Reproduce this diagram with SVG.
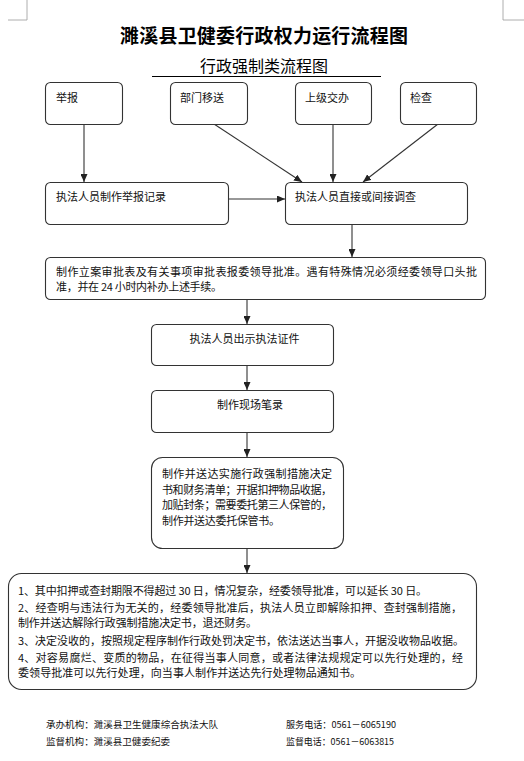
<svg xmlns="http://www.w3.org/2000/svg" width="524" height="761" viewBox="0 0 524 761">
<defs>
<marker id="ah" markerWidth="8" markerHeight="7" refX="8" refY="3.5" orient="auto" markerUnits="userSpaceOnUse"><path d="M0,0 L8,3.5 L0,7 z" fill="#222"/></marker>
<style>
.box{fill:#fff;stroke:#333;stroke-width:1.1}
.t{font-family:"Noto Sans CJK SC","Noto Sans",sans-serif;font-size:11px;fill:#111}
.f{font-family:"Noto Sans CJK SC","Noto Sans",sans-serif;font-size:9.6px;fill:#111}
.c{stroke:#333;stroke-width:1.1;fill:none;marker-end:url(#ah)}
.m{stroke:#999;stroke-width:0.8;fill:none}
</style>
</defs>
<rect width="524" height="761" fill="#fff"/>
<g id="corners">
<path class="m" d="M27,0 V20 H8"/>
<path class="m" d="M503,0 V20 H524"/>
</g>
<g id="title">
<text x="264" y="43" text-anchor="middle" style="font-family:'Noto Sans CJK SC',sans-serif;font-size:19px;font-weight:bold;fill:#000" textLength="288">濉溪县卫健委行政权力运行流程图</text>
<text x="264" y="72" text-anchor="middle" style="font-family:'Noto Sans CJK SC',sans-serif;font-size:16px;fill:#000">行政强制类流程图</text>
<line x1="152" y1="76.5" x2="381" y2="76.5" stroke="#000" stroke-width="1"/>
</g>
<g id="connectors">
<line class="c" x1="84" y1="124" x2="84" y2="182"/>
<line class="c" x1="214" y1="124" x2="302" y2="182"/>
<line class="c" x1="333" y1="124" x2="333" y2="182"/>
<line class="c" x1="438" y1="124" x2="363" y2="182"/>
<line class="c" x1="228" y1="199" x2="285" y2="199"/>
<line class="c" x1="352" y1="224" x2="352" y2="257"/>
<line class="c" x1="247" y1="299" x2="247" y2="324"/>
<line class="c" x1="247" y1="365" x2="247" y2="390"/>
<line class="c" x1="247" y1="432" x2="247" y2="457"/>
<line class="c" x1="247" y1="548" x2="247" y2="573"/>
</g>
<g id="n-jubao"><rect class="box" x="45.5" y="82.5" width="77" height="42" rx="5"/><text class="t" x="56" y="102">举报</text></g>
<g id="n-bumen"><rect class="box" x="170.5" y="82.5" width="77" height="42" rx="5"/><text class="t" x="180" y="102">部门移送</text></g>
<g id="n-shangji"><rect class="box" x="295.5" y="82.5" width="76" height="42" rx="5"/><text class="t" x="305" y="102">上级交办</text></g>
<g id="n-jiancha"><rect class="box" x="400.5" y="82.5" width="76" height="42" rx="5"/><text class="t" x="410" y="102">检查</text></g>
<g id="n-jilu"><rect class="box" x="45.5" y="182.5" width="183" height="42" rx="5"/><text class="t" x="56" y="201">执法人员制作举报记录</text></g>
<g id="n-diaocha"><rect class="box" x="285.5" y="182.5" width="182" height="42" rx="5"/><text class="t" x="295" y="201">执法人员直接或间接调查</text></g>
<g id="n-lian"><rect class="box" x="45.5" y="257.5" width="440" height="42" rx="5"/>
<text class="t" x="56" y="275.5" textLength="421" lengthAdjust="spacing">制作立案审批表及有关事项审批表报委领导批准。遇有特殊情况必须经委领导口头批</text>
<text class="t" x="56" y="291" textLength="166" lengthAdjust="spacing">准，并在 24 小时内补办上述手续。</text></g>
<g id="n-zhengjian"><rect class="box" x="151.5" y="324.5" width="182" height="41" rx="5"/><text class="t" x="244.5" y="342.5" text-anchor="middle">执法人员出示执法证件</text></g>
<g id="n-bilu"><rect class="box" x="151.5" y="390.5" width="182" height="42" rx="5"/><text class="t" x="217" y="408.5">制作现场笔录</text></g>
<g id="n-jueding"><rect class="box" x="151.5" y="457.5" width="192" height="91" rx="11"/>
<text class="t" x="162" y="477.5" textLength="170" lengthAdjust="spacing">制作并送达实施行政强制措施决定</text>
<text class="t" x="162" y="493.5" textLength="170" lengthAdjust="spacing">书和财务清单；开据扣押物品收据，</text>
<text class="t" x="162" y="509" textLength="170" lengthAdjust="spacing">加贴封条；需要委托第三人保管的，</text>
<text class="t" x="162" y="524.5" textLength="118" lengthAdjust="spacing">制作并送达委托保管书。</text></g>
<g id="n-notes"><rect class="box" x="8.5" y="573.5" width="468" height="116" rx="13"/>
<text class="t" x="18" y="595" textLength="409" lengthAdjust="spacing">1、其中扣押或查封期限不得超过 30 日，情况复杂，经委领导批准，可以延长 30 日。</text>
<text class="t" x="18" y="611.5" textLength="444" lengthAdjust="spacing">2、经查明与违法行为无关的，经委领导批准后，执法人员立即解除扣押、查封强制措施，</text>
<text class="t" x="18" y="626.5" textLength="239" lengthAdjust="spacing">制作并送达解除行政强制措施决定书，退还财务。</text>
<text class="t" x="18" y="645" textLength="446" lengthAdjust="spacing">3、决定没收的，按照规定程序制作行政处罚决定书，依法送达当事人，开据没收物品收据。</text>
<text class="t" x="18" y="661.5" textLength="445" lengthAdjust="spacing">4、对容易腐烂、变质的物品，在征得当事人同意，或者法律法规规定可以先行处理的，经</text>
<text class="t" x="18" y="677" textLength="343" lengthAdjust="spacing">委领导批准可以先行处理，向当事人制作并送达先行处理物品通知书。</text></g>
<g id="footer">
<text class="f" x="46" y="727.5" textLength="172" lengthAdjust="spacingAndGlyphs">承办机构：濉溪县卫生健康综合执法大队</text>
<text class="f" x="286" y="727.5" textLength="110" lengthAdjust="spacingAndGlyphs">服务电话：0561－6065190</text>
<text class="f" x="46" y="744.5" textLength="124" lengthAdjust="spacingAndGlyphs">监督机构：濉溪县卫健委纪委</text>
<text class="f" x="286" y="744.5" textLength="108" lengthAdjust="spacingAndGlyphs">监督电话：0561－6063815</text>
</g>
</svg>
